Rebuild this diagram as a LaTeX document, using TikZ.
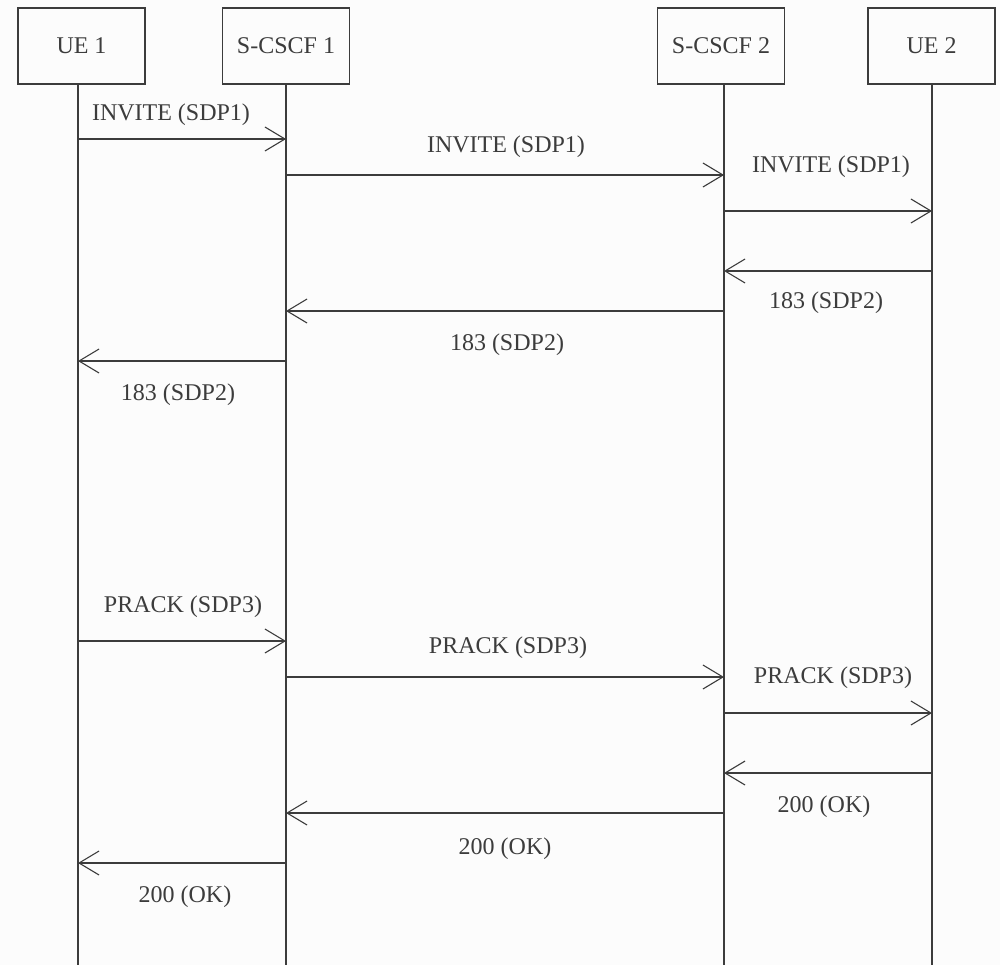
\documentclass[tikz,border=0pt]{standalone}
\usepackage{fontspec}
\setmainfont{Liberation Serif}
\usetikzlibrary{arrows.meta}
\definecolor{ink}{HTML}{3C3C3C}
\definecolor{paper}{HTML}{FCFCFC}

\begin{document}
\begin{tikzpicture}[
  x=1pt,y=-1pt,
  font=\fontsize{24}{28}\selectfont,
  ent/.style={draw=ink,line width=1.8pt,minimum width=127pt,minimum height=76pt,inner sep=0pt,text=ink},
  life/.style={draw=ink,line width=1.8pt},
  msg/.style={draw=ink,line width=1.8pt,-{Straight Barb[length=20pt,width=24pt,line width=1.1pt]}},
  lbl/.style={text=ink,inner sep=0pt,anchor=base},
]

\fill[paper] (0,0) rectangle (1000,965);

% entities
\node[ent] (ue1) at (81.5,46) {UE 1};
\node[ent] (sc1) at (286,46) {S-CSCF 1};
\node[ent] (sc2) at (721,46) {S-CSCF 2};
\node[ent] (ue2) at (931.5,46) {UE 2};

% lifelines
\coordinate (ue1b) at (78,965);
\coordinate (sc1b) at (286,965);
\coordinate (sc2b) at (724,965);
\coordinate (ue2b) at (932,965);
\draw[life] (ue1.south -| ue1b) -- (ue1b);
\draw[life] (sc1.south -| sc1b) -- (sc1b);
\draw[life] (sc2.south -| sc2b) -- (sc2b);
\draw[life] (ue2.south -| ue2b) -- (ue2b);

% INVITE / 183
\draw[msg] (ue1b |- 0,139) -- (sc1b |- 0,139);
\node[lbl] (inv1) at (171,120) {INVITE (SDP1)};
\draw[msg] (sc1b |- 0,175) -- (sc2b |- 0,175);
\node[lbl] (inv2) at (506,152) {INVITE (SDP1)};
\draw[msg] (sc2b |- 0,211) -- (ue2b |- 0,211);
\node[lbl] (inv3) at (831,172) {INVITE (SDP1)};
\draw[msg] (ue2b |- 0,271) -- (sc2b |- 0,271);
\node[lbl] (sdp2a) at (826,308) {183 (SDP2)};
\draw[msg] (sc2b |- 0,311) -- (sc1b |- 0,311);
\node[lbl] (sdp2b) at (507,350) {183 (SDP2)};
\draw[msg] (sc1b |- 0,361) -- (ue1b |- 0,361);
\node[lbl] (sdp2c) at (178,400) {183 (SDP2)};

% PRACK / 200
\draw[msg] (ue1b |- 0,641) -- (sc1b |- 0,641);
\node[lbl] (pra1) at (183,612) {PRACK (SDP3)};
\draw[msg] (sc1b |- 0,677) -- (sc2b |- 0,677);
\node[lbl] (pra2) at (508,653) {PRACK (SDP3)};
\draw[msg] (sc2b |- 0,713) -- (ue2b |- 0,713);
\node[lbl] (pra3) at (833,683) {PRACK (SDP3)};
\draw[msg] (ue2b |- 0,773) -- (sc2b |- 0,773);
\node[lbl] (ok1) at (824,812) {200 (OK)};
\draw[msg] (sc2b |- 0,813) -- (sc1b |- 0,813);
\node[lbl] (ok2) at (505,854) {200 (OK)};
\draw[msg] (sc1b |- 0,863) -- (ue1b |- 0,863);
\node[lbl] (ok3) at (185,902) {200 (OK)};
\end{tikzpicture}
\end{document}
